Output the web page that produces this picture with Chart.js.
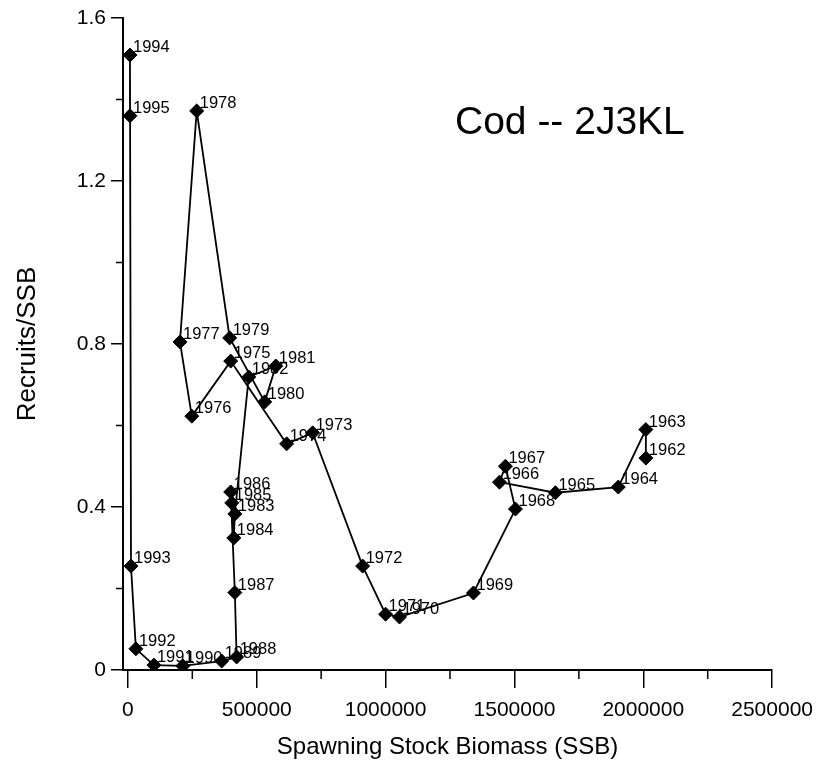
<!DOCTYPE html>
<html>
<head>
<meta charset="utf-8">
<script src="https://cdn.jsdelivr.net/npm/chart.js@4/dist/chart.umd.min.js"></script>
<style>
  html, body { margin: 0; padding: 0; background: #fff; }
  #wrap { width: 823px; height: 768px; position: relative; }
</style>
</head>
<body>
<div id="wrap"><canvas id="chart"></canvas></div>
<script>
// year of each point, in time order
const years = [1962, 1963, 1964, 1965, 1966, 1967, 1968, 1969, 1970, 1971, 1972,
  1973, 1974, 1975, 1976, 1977, 1978, 1979, 1980, 1981, 1982, 1983, 1984, 1985,
  1986, 1987, 1988, 1989, 1990, 1991, 1992, 1993, 1994, 1995];
// spawning stock biomass
const ssb = [2010000, 2010000, 1903000, 1659000, 1442000, 1465000, 1504000, 1341000,
  1054000, 1000000, 911000, 717000, 616000, 399000, 248000, 202000, 267000, 395000,
  531000, 574000, 469000, 415000, 411000, 403000, 399000, 415000, 422000, 364000,
  213000, 101000, 31000, 12000, 8000, 8000];
// recruits per unit SSB
const recruitsPerSsb = [0.52, 0.59, 0.449, 0.435, 0.461, 0.50, 0.395, 0.189, 0.13,
  0.137, 0.255, 0.582, 0.555, 0.758, 0.623, 0.805, 1.372, 0.815, 0.658, 0.746, 0.719,
  0.383, 0.324, 0.41, 0.437, 0.19, 0.032, 0.022, 0.01, 0.012, 0.052, 0.255, 1.509, 1.36];

const xTicks = [0, 500000, 1000000, 1500000, 2000000, 2500000];
const xMinorTicks = [250000, 750000, 1250000, 1750000, 2250000];
const yTicks = [0, 0.4, 0.8, 1.2, 1.6];
const yMinorTicks = [0.2, 0.6, 1.0, 1.4];

const FONT = 'Arial, "Liberation Sans", sans-serif';

// year labels next to each diamond
const yearLabels = {
  id: 'yearLabels',
  afterDatasetsDraw(chart) {
    const ctx = chart.ctx;
    const meta = chart.getDatasetMeta(0);
    ctx.save();
    ctx.font = '16.5px ' + FONT;
    ctx.fillStyle = '#000';
    ctx.textBaseline = 'alphabetic';
    meta.data.forEach((pt, i) => {
      ctx.fillText(String(years[i]), pt.x + 3, pt.y - 3);
    });
    ctx.restore();
  }
};

// short minor ticks between the labelled ones
const minorTicks = {
  id: 'minorTicks',
  afterDraw(chart) {
    const ctx = chart.ctx;
    const xs = chart.scales.x, ys = chart.scales.y;
    const area = chart.chartArea;
    ctx.save();
    ctx.strokeStyle = '#000';
    ctx.lineWidth = 1.5;
    ctx.beginPath();
    xMinorTicks.forEach(v => {
      const px = xs.getPixelForValue(v);
      ctx.moveTo(px, area.bottom);
      ctx.lineTo(px, area.bottom + 9);
    });
    yMinorTicks.forEach(v => {
      const py = ys.getPixelForValue(v);
      ctx.moveTo(area.left, py);
      ctx.lineTo(area.left - 7, py);
    });
    ctx.stroke();
    ctx.restore();
  }
};

// chart title inside the plot
const plotTitle = {
  id: 'plotTitle',
  afterDraw(chart) {
    const ctx = chart.ctx;
    ctx.save();
    ctx.font = '39px ' + FONT;
    ctx.fillStyle = '#000';
    ctx.textBaseline = 'alphabetic';
    ctx.fillText('Cod -- 2J3KL', 455, 134);
    ctx.restore();
  }
};

new Chart(document.getElementById('chart'), {
  type: 'scatter',
  data: {
    datasets: [{
      data: ssb.map((v, i) => ({ x: v, y: recruitsPerSsb[i] })),
      showLine: true,
      borderColor: '#000',
      borderWidth: 1.8,
      tension: 0,
      pointStyle: 'rectRot',
      pointRadius: 7,
      pointBackgroundColor: '#000',
      pointBorderColor: '#000',
      pointBorderWidth: 1
    }]
  },
  options: {
    responsive: true,
    maintainAspectRatio: false,
    animation: false,
    layout: { padding: { left: 0, right: 50, top: 18, bottom: 0 } },
    plugins: {
      legend: { display: false },
      tooltip: { enabled: false }
    },
    scales: {
      x: {
        type: 'linear',
        min: -19000,
        max: 2500000,
        afterBuildTicks: s => { s.ticks = xTicks.map(v => ({ value: v })); },
        afterFit: s => { s.height = 98; },
        ticks: {
          color: '#000',
          font: { family: FONT, size: 21 },
          padding: 10,
          maxRotation: 0,
          callback: v => String(v)
        },
        grid: { drawOnChartArea: false, color: '#000', tickLength: 18, lineWidth: 1.5 },
        border: { color: '#000', width: 2 },
        title: {
          display: true,
          text: 'Spawning Stock Biomass (SSB)',
          color: '#000',
          font: { family: FONT, size: 24 },
          padding: { top: 0, bottom: 6 }
        }
      },
      y: {
        min: 0,
        max: 1.6,
        afterBuildTicks: s => { s.ticks = yTicks.map(v => ({ value: v })); },
        afterFit: s => { s.width = 123; },
        ticks: {
          color: '#000',
          font: { family: FONT, size: 21 },
          padding: 5,
          callback: v => String(v)
        },
        grid: { drawOnChartArea: false, color: '#000', tickLength: 12, lineWidth: 1.5 },
        border: { color: '#000', width: 2 },
        title: {
          display: true,
          text: 'Recruits/SSB',
          color: '#000',
          font: { family: FONT, size: 26 },
          padding: { top: 12, bottom: 0 }
        }
      }
    }
  },
  plugins: [yearLabels, minorTicks, plotTitle]
});
</script>
</body>
</html>
